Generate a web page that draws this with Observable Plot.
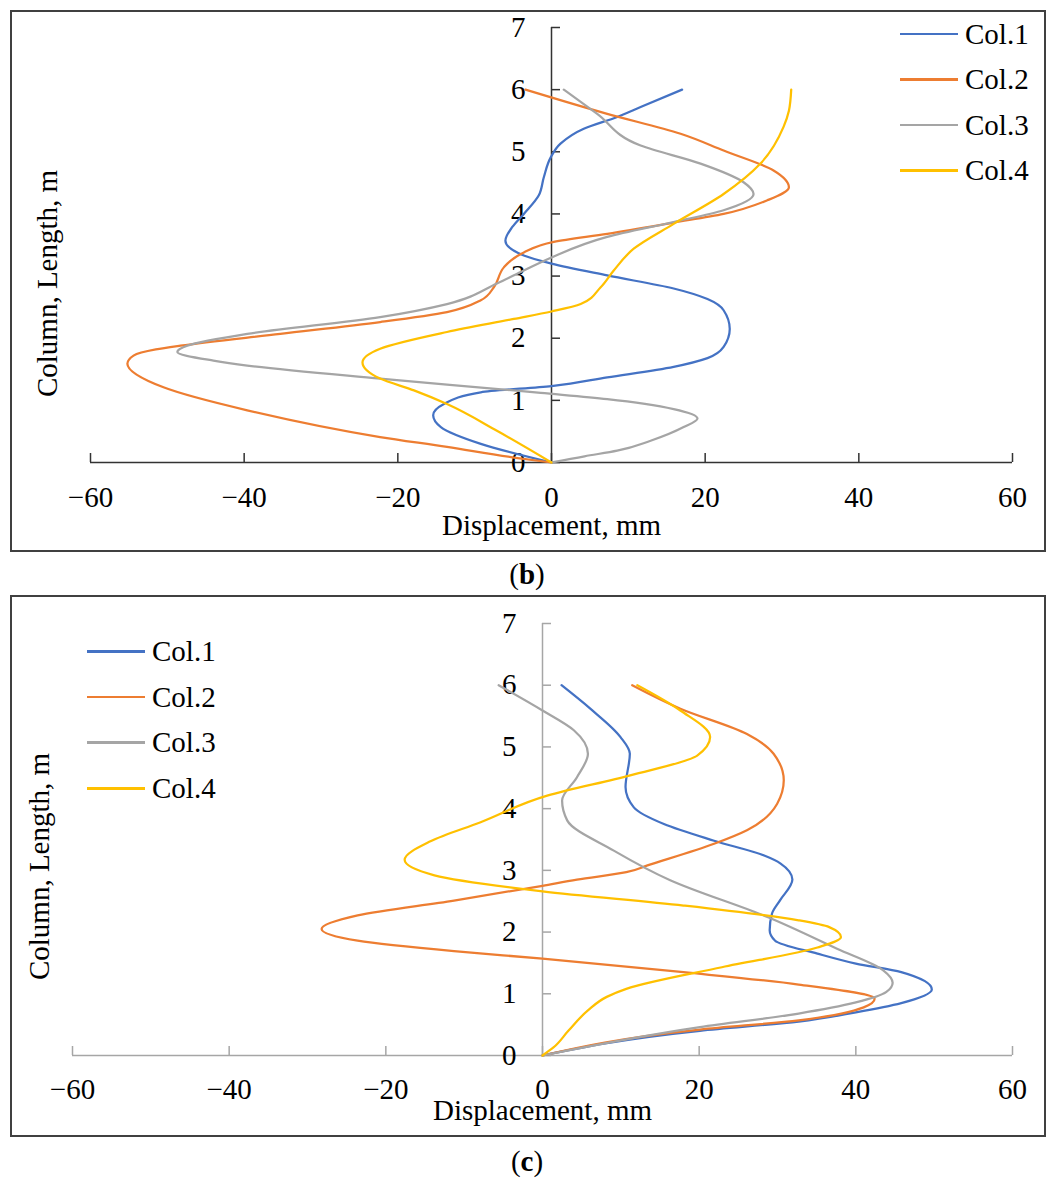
<!DOCTYPE html>
<html>
<head>
<meta charset="utf-8">
<script src="https://cdn.jsdelivr.net/npm/d3@7"></script>
<script src="https://cdn.jsdelivr.net/npm/@observablehq/plot@0.6"></script>
<style>
  html, body { margin: 0; padding: 0; background: #fff; }
  body { width: 1054px; height: 1186px; position: relative; overflow: hidden; font-family: "Liberation Serif", "Times New Roman", serif; }
  .plotwrap { position: absolute; left: 0; }
  .box { position: absolute; box-sizing: border-box; border: 2px solid #404040; pointer-events: none; }
  .leg-line { position: absolute; height: 2.5px; }
  .leg-text { position: absolute; font-size: 29px; line-height: 1; color: #000; white-space: nowrap; }
  .caption { position: absolute; left: 0; width: 1054px; text-align: center; font-size: 29px; line-height: 1; color: #000; }
</style>
</head>
<body>
<script>
// ---- Data (displacement mm, column length m) ----
const seriesNames = ["Col.1", "Col.2", "Col.3", "Col.4"];
const xTicks = [-60, -40, -20, 0, 20, 40, 60];
const yTicks = [0, 1, 2, 3, 4, 5, 6, 7];

// Panel (b)
const b_col1 = [[0,0],[-9.2,0.30],[-14.4,0.57],[-15.4,0.76],[-14.0,0.94],[-9.2,1.13],[0,1.23],[7.25,1.37],[15.9,1.54],[20.3,1.68],[22.4,1.86],[23.2,2.15],[22.4,2.45],[20.3,2.63],[15.9,2.80],[7.25,3.01],[0,3.2],[-3.6,3.33],[-6.0,3.57],[-5.1,3.79],[-3.6,4.0],[-1.65,4.30],[-1.0,4.59],[-0.1,4.91],[1.17,5.13],[4.2,5.37],[8.55,5.56],[11.6,5.72],[17.0,6.0]];
const b_col2 = [[0,0],[-4.9,0.08],[-13.6,0.25],[-22.3,0.41],[-39.6,0.84],[-50.5,1.21],[-55.2,1.59],[-54.4,1.72],[-51.5,1.82],[-48.3,1.88],[-35.3,2.07],[-22.3,2.26],[-13.6,2.42],[-9.2,2.61],[-7.5,2.82],[-6.2,3.14],[-5.3,3.25],[-3.6,3.38],[0.3,3.55],[7.25,3.68],[15.9,3.86],[22.4,4.0],[28.1,4.22],[30.9,4.43],[28.9,4.70],[22.4,5.02],[16.8,5.29],[7.25,5.61],[-3.4,6.0]];
const b_col3 = [[0,0],[4.3,0.10],[8.55,0.19],[12.9,0.35],[17.2,0.57],[19.0,0.71],[15.9,0.86],[7.25,1.02],[-1.4,1.12],[-4.9,1.16],[-22.3,1.35],[-39.6,1.56],[-44.0,1.64],[-48.7,1.78],[-47.4,1.88],[-39.6,2.07],[-22.3,2.34],[-13.6,2.55],[-7.1,2.88],[-3.6,3.09],[0,3.30],[7.25,3.63],[15.9,3.87],[22.4,4.06],[26.3,4.32],[25.0,4.51],[19.4,4.81],[11.6,5.10],[5.95,5.61],[1.6,6.0]];
const b_col4 = [[0,0],[-7.1,0.51],[-13.6,0.94],[-17.9,1.16],[-22.3,1.35],[-24.6,1.61],[-22.3,1.83],[-13.6,2.10],[-4.9,2.31],[0,2.43],[3.8,2.55],[6.4,2.82],[8.1,3.09],[10.7,3.44],[15.9,3.84],[22.4,4.32],[27.2,4.81],[30.2,5.40],[30.9,5.66],[31.2,6.0]];

// Panel (c)
const c_col1 = [[0,0],[20.1,0.40],[32.7,0.55],[40.0,0.70],[45.8,0.85],[49.7,1.07],[45.8,1.35],[40.0,1.49],[35.1,1.65],[29.7,1.86],[29.0,2.03],[29.3,2.30],[30.3,2.51],[31.9,2.85],[30.4,3.11],[28.3,3.24],[21.9,3.48],[15.5,3.75],[11.66,4.02],[10.6,4.35],[11.15,4.89],[9.96,5.16],[6.1,5.62],[2.43,6.0]];
const c_col2 = [[0,0],[20.1,0.42],[32.7,0.57],[41.0,0.78],[42.4,0.92],[32.7,1.15],[18.0,1.35],[0,1.57],[-11.3,1.69],[-23.6,1.86],[-28.2,2.05],[-23.6,2.27],[-11.3,2.51],[0,2.75],[4.4,2.85],[10.7,2.97],[13.4,3.08],[21.9,3.43],[26.1,3.65],[29.96,4.08],[30.8,4.46],[29.5,4.89],[26.1,5.21],[17.6,5.62],[11.45,6.0]];
const c_col3 = [[0,0],[20.1,0.46],[32.7,0.68],[40.0,0.86],[43.9,1.03],[44.7,1.18],[43.5,1.38],[37.6,1.73],[28.8,2.24],[16.3,2.84],[9.1,3.32],[3.15,3.81],[2.5,4.13],[4.4,4.51],[5.8,4.89],[4.0,5.27],[0,5.59],[-5.6,6.0]];
const c_col4 = [[0,0],[1.4,0.13],[3.3,0.40],[5.8,0.73],[8.2,0.95],[10.7,1.08],[22.9,1.43],[35.1,1.75],[38.1,1.92],[36.6,2.08],[32.7,2.19],[18.0,2.43],[0,2.66],[-13.8,2.92],[-17.6,3.17],[-14.3,3.47],[-7.9,3.78],[0.6,4.21],[11.2,4.54],[19.75,4.86],[21.4,5.16],[17.6,5.59],[12.1,6.0]];

const seriesColors = ["#4472C4", "#ED7D31", "#A5A5A5", "#FFC000"];
const FONT = "'Liberation Serif', 'Times New Roman', serif";
const FS = 29;

function rows(list) {
  return list.flatMap((pts, i) => pts.map(([d, l]) => ({series: seriesNames[i], disp: d, len: l})));
}
const fmt = d => d < 0 ? "\u2212" + Math.abs(d) : String(d);

function panel(o) {
  return Plot.plot({
    width: 1054, height: o.height,
    marginTop: o.mt, marginBottom: o.mb, marginLeft: o.ml, marginRight: o.mr,
    style: {background: "none", fontFamily: FONT, fontSize: FS + "px", overflow: "visible"},
    x: {domain: [-60, 60], axis: null},
    y: {domain: [0, 7], axis: null},
    color: {domain: seriesNames, range: seriesColors},
    marks: [
      Plot.ruleY([0], {x1: -60, x2: 60, stroke: o.axisColor, strokeWidth: 1.5}),
      Plot.ruleX([0], {y1: 0, y2: 7, stroke: o.axisColor, strokeWidth: 1.5}),
      Plot.ruleX(xTicks, {x: d => d, y1: 0, y2: 0, insetTop: -9, stroke: o.axisColor, strokeWidth: 1.5}),
      Plot.ruleY(yTicks, {y: d => d, x1: 0, x2: 0, insetRight: -9, stroke: o.axisColor, strokeWidth: 1.5}),
      Plot.text(xTicks, {x: d => d, y: 0, text: fmt, dy: o.xLabelDy, fontSize: FS, fill: "#000", fontFamily: FONT}),
      Plot.text(yTicks, {x: 0, y: d => d, text: fmt, dx: -26, textAnchor: "end", fontSize: FS, fill: "#000", fontFamily: FONT}),
      Plot.text(["Displacement, mm"], {frameAnchor: "bottom", dy: o.xTitleDy, fontSize: FS, fill: "#000", fontFamily: FONT}),
      Plot.text(["Column, Length, m"], {frameAnchor: "left", rotate: -90, textAnchor: "middle", lineAnchor: "bottom", dx: o.yTitleDx, dy: o.yTitleDy, fontSize: FS, fill: "#000", fontFamily: FONT}),
      Plot.line(o.data, {x: "disp", y: "len", z: "series", stroke: "series", strokeWidth: 2.25, curve: "monotone-y"})
    ]
  });
}

function addPlot(svg, top) {
  const wrap = document.createElement("div");
  wrap.className = "plotwrap";
  wrap.style.top = top + "px";
  wrap.appendChild(svg);
  document.body.appendChild(wrap);
}
function addBox(l, t, w, h) {
  const b = document.createElement("div");
  b.className = "box";
  Object.assign(b.style, {left: l + "px", top: t + "px", width: w + "px", height: h + "px"});
  document.body.appendChild(b);
}
function addLegend(lineX, textX, ys) {
  seriesNames.forEach((name, i) => {
    const ln = document.createElement("div");
    ln.className = "leg-line";
    Object.assign(ln.style, {left: lineX + "px", top: (ys[i] - 1.25) + "px", width: "58px", background: seriesColors[i]});
    document.body.appendChild(ln);
    const tx = document.createElement("div");
    tx.className = "leg-text";
    tx.textContent = name;
    Object.assign(tx.style, {left: textX + "px", top: (ys[i] - 14.3) + "px"});
    document.body.appendChild(tx);
  });
}
function addCaption(letter, top) {
  const c = document.createElement("div");
  c.className = "caption";
  c.style.top = top + "px";
  c.innerHTML = "(<b>" + letter + "</b>)";
  document.body.appendChild(c);
}

// Panel (b)
addPlot(panel({data: rows([b_col1, b_col2, b_col3, b_col4]), height: 600, mt: 27, mb: 138, ml: 90, mr: 42,
  axisColor: "#333333", xLabelDy: 35.5, xTitleDy: 72, yTitleDx: -33.5, yTitleDy: 38.5}), 0);
addBox(10, 10, 1036, 542);
addLegend(900, 965, [34, 79.3, 125, 170.7]);
addCaption("b", 560);

// Panel (c)
addPlot(panel({data: rows([c_col1, c_col2, c_col3, c_col4]), height: 596, mt: 33, mb: 131, ml: 72, mr: 42,
  axisColor: "#A6A6A6", xLabelDy: 34.5, xTitleDy: 64.5, yTitleDx: -24, yTitleDy: 27}), 590);
addBox(10, 595, 1036, 542);
addLegend(87, 152, [651.7, 697, 742.7, 788.3]);
addCaption("c", 1147);
</script>
</body>
</html>
